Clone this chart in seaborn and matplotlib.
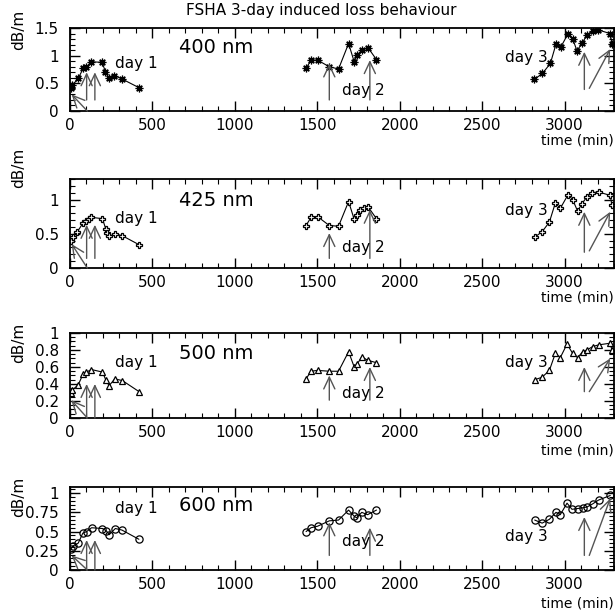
import numpy as np
import pandas as pd
import matplotlib
matplotlib.use("Agg")
import matplotlib.pyplot as plt
import seaborn as sns
from matplotlib.ticker import MultipleLocator, FuncFormatter

# induced loss (dB/m) vs time (min)
t_400 = [5, 15, 50, 80, 100, 130, 195, 215, 235, 270, 315, 420,
         1432, 1462, 1502, 1573, 1629, 1690, 1724, 1744, 1774, 1809, 1859,
         2816, 2866, 2914, 2948, 2976, 3020, 3049, 3075, 3108, 3136, 3170, 3200, 3277, 3287]
y_400 = [0.42, 0.47, 0.59, 0.77, 0.80, 0.89, 0.88, 0.71, 0.60, 0.64, 0.58, 0.42,
         0.77, 0.92, 0.92, 0.80, 0.76, 1.22, 0.89, 1.02, 1.11, 1.14, 0.93,
         0.57, 0.68, 0.86, 1.21, 1.15, 1.39, 1.31, 1.09, 1.23, 1.38, 1.44, 1.47, 1.40, 1.22]

t_425 = [5, 20, 45, 80, 100, 115, 130, 197, 217, 226, 238, 272, 318, 419,
         1432, 1462, 1502, 1573, 1629, 1690, 1724, 1738, 1760, 1785, 1809, 1859,
         2819, 2864, 2908, 2944, 2974, 3021, 3049, 3079, 3106, 3136, 3166, 3206, 3277, 3287]
y_425 = [0.40, 0.45, 0.53, 0.66, 0.68, 0.71, 0.74, 0.72, 0.57, 0.51, 0.46, 0.50, 0.47, 0.34,
         0.62, 0.74, 0.75, 0.62, 0.61, 0.97, 0.71, 0.78, 0.84, 0.87, 0.89, 0.72,
         0.45, 0.53, 0.67, 0.95, 0.87, 1.07, 1.00, 0.83, 0.94, 1.04, 1.10, 1.11, 1.06, 0.92]

t_500 = [5, 15, 50, 80, 100, 130, 197, 217, 237, 272, 318, 419,
         1432, 1462, 1502, 1573, 1629, 1690, 1724, 1744, 1770, 1805, 1859,
         2819, 2864, 2908, 2944, 2974, 3015, 3049, 3079, 3110, 3136, 3170, 3206, 3277, 3287]
y_500 = [0.29, 0.33, 0.39, 0.52, 0.54, 0.57, 0.54, 0.45, 0.38, 0.46, 0.44, 0.31,
         0.46, 0.55, 0.56, 0.55, 0.55, 0.78, 0.60, 0.64, 0.72, 0.68, 0.65,
         0.45, 0.48, 0.56, 0.76, 0.71, 0.87, 0.76, 0.71, 0.78, 0.80, 0.84, 0.86, 0.88, 0.80]

t_600 = [5, 16, 50, 78, 101, 131, 197, 220, 238, 275, 315, 418,
         1432, 1462, 1502, 1573, 1629, 1690, 1724, 1738, 1770, 1805, 1859,
         2819, 2864, 2908, 2948, 2974, 3015, 3045, 3079, 3110, 3136, 3170, 3206, 3277]
y_600 = [0.27, 0.31, 0.35, 0.48, 0.50, 0.55, 0.54, 0.51, 0.46, 0.54, 0.52, 0.40,
         0.50, 0.55, 0.57, 0.64, 0.65, 0.78, 0.70, 0.68, 0.75, 0.72, 0.78,
         0.65, 0.61, 0.66, 0.75, 0.72, 0.87, 0.79, 0.80, 0.81, 0.82, 0.86, 0.91, 0.97]

# arrows: (t_tail, y_tail, t_head, y_head)
arrows_400 = [(105, 0.0, 10, 0.30), (101, 0.2, 101, 0.70), (151, 0.2, 151, 0.70),
              (1573, 0.2, 1573, 0.86), (1819, 0.2, 1819, 0.92),
              (3120, 0.39, 3120, 1.07), (3150, 0.41, 3277, 1.12)]
arrows_425 = [(105, 0.0, 10, 0.35), (101, 0.14, 101, 0.63), (151, 0.14, 151, 0.63),
              (1573, 0.14, 1573, 0.51), (1819, 0.14, 1819, 0.85),
              (3120, 0.23, 3120, 0.82), (3150, 0.25, 3277, 0.82)]
arrows_500 = [(105, 0.0, 8, 0.21), (101, 0.0, 101, 0.40), (151, 0.0, 151, 0.40),
              (1573, 0.21, 1573, 0.50), (1819, 0.21, 1819, 0.60),
              (3120, 0.31, 3120, 0.60), (3150, 0.31, 3277, 0.70)]
arrows_600 = [(105, 0.0, 10, 0.19), (101, 0.0, 101, 0.39), (151, 0.0, 151, 0.39),
              (1573, 0.19, 1573, 0.62), (1819, 0.19, 1819, 0.55),
              (3120, 0.19, 3120, 0.69), (3150, 0.19, 3277, 0.93)]

wavelengths = ["400 nm", "425 nm", "500 nm", "600 nm"]
day_bounds = [1000, 2500]

sns.set_style("ticks")
plt.rcParams["font.family"] = ["DejaVu Sans"]
plt.rcParams.update({"text.color": "black", "axes.labelcolor": "black",
                     "xtick.color": "black", "ytick.color": "black",
                     "axes.edgecolor": "black"})

fig = plt.figure(figsize=(6.15, 6.11), dpi=100)

# per panel layout: [bottom, height], ylim top, major, minor, marker, ms, mfc,
# day1/day2/day3 label positions (axes fraction), dB/m y, time label y
panels = [
    dict(t=t_400, y=y_400, arr=arrows_400, pos=(0.8183, 0.1358), ytop=1.5, maj=0.5, mnr=0.1,
         mk=(8, 2, 0), ms=5.5, mfc="black", nm=0.77, d1=0.575, d2=0.25, d3=(0.80, 0.65),
         lab=0.98, tlab=-0.36),
    dict(t=t_425, y=y_425, arr=arrows_425, pos=(0.5614, 0.1457), ytop=1.3, maj=0.5, mnr=0.1,
         mk="P", ms=4.8, mfc="white", nm=0.76, d1=0.557, d2=0.23, d3=(0.80, 0.65),
         lab=1.13, tlab=-0.33),
    dict(t=t_500, y=y_500, arr=arrows_500, pos=(0.3159, 0.1391), ytop=1.0, maj=0.2, mnr=0.05,
         mk="^", ms=5.0, mfc="white", nm=0.76, d1=0.647, d2=0.29, d3=(0.80, 0.65),
         lab=0.88, tlab=-0.38),
    dict(t=t_600, y=y_600, arr=arrows_600, pos=(0.0671, 0.1358), ytop=1.08, maj=0.25, mnr=0.05,
         mk="o", ms=5.2, mfc="none", nm=0.78, d1=0.74, d2=0.34, d3=(0.80, 0.40),
         lab=0.88, tlab=-0.40),
]

fmt = FuncFormatter(lambda v, p: "%g" % round(v, 3))

for name, p in zip(wavelengths, panels):
    ax = fig.add_axes([0.1138, p["pos"][0], 0.8846, p["pos"][1]])
    df = pd.DataFrame({"time": p["t"], "loss": p["y"]})
    df["day"] = np.digitize(df["time"], day_bounds) + 1
    sns.lineplot(data=df, x="time", y="loss", units="day", estimator=None, sort=False,
                 color="black", lw=0.8, marker=p["mk"], markersize=p["ms"],
                 markerfacecolor=p["mfc"], markeredgecolor="black", markeredgewidth=0.9,
                 ax=ax, legend=False)

    for (tx, ty, hx, hy) in p["arr"]:
        ax.annotate("", xy=(hx, hy), xytext=(tx, ty),
                    arrowprops=dict(arrowstyle="->,head_length=0.85,head_width=0.4",
                                    color="#555555", lw=1.0, shrinkA=0, shrinkB=0))

    ax.set_xlim(0, 3300)
    ax.set_ylim(0, p["ytop"])
    ax.xaxis.set_major_locator(MultipleLocator(500))
    ax.xaxis.set_minor_locator(MultipleLocator(100))
    ax.yaxis.set_major_locator(MultipleLocator(p["maj"]))
    ax.yaxis.set_minor_locator(MultipleLocator(p["mnr"]))
    ax.yaxis.set_major_formatter(fmt)
    ax.tick_params(which="both", direction="in", top=True, right=True, labelsize=11)
    ax.tick_params(which="major", length=7, width=1.0)
    ax.tick_params(which="minor", length=3.5, width=0.8)
    ax.tick_params(axis="x", pad=5)
    ax.tick_params(axis="y", pad=8)
    for s in ax.spines.values():
        s.set_linewidth(1.3)
    ax.set_xlabel("")
    ax.set_ylabel("")

    ax.text(0.20, p["nm"], name, transform=ax.transAxes, fontsize=14, va="center")
    ax.text(0.083, p["d1"], "day 1", transform=ax.transAxes, fontsize=11, va="center")
    ax.text(0.50, p["d2"], "day 2", transform=ax.transAxes, fontsize=11, va="center")
    ax.text(p["d3"][0], p["d3"][1], "day 3", transform=ax.transAxes, fontsize=11, va="center")
    ax.text(-0.094, p["lab"], "dB/m", transform=ax.transAxes, fontsize=11,
            rotation=90, ha="center", va="center")
    ax.text(1.0, p["tlab"], "time (min)", transform=ax.transAxes, fontsize=10,
            ha="right", va="center")

fig.text(0.522, 0.982, "FSHA 3-day induced loss behaviour", ha="center", va="center", fontsize=11)

fig.savefig("out.png", dpi=100)
